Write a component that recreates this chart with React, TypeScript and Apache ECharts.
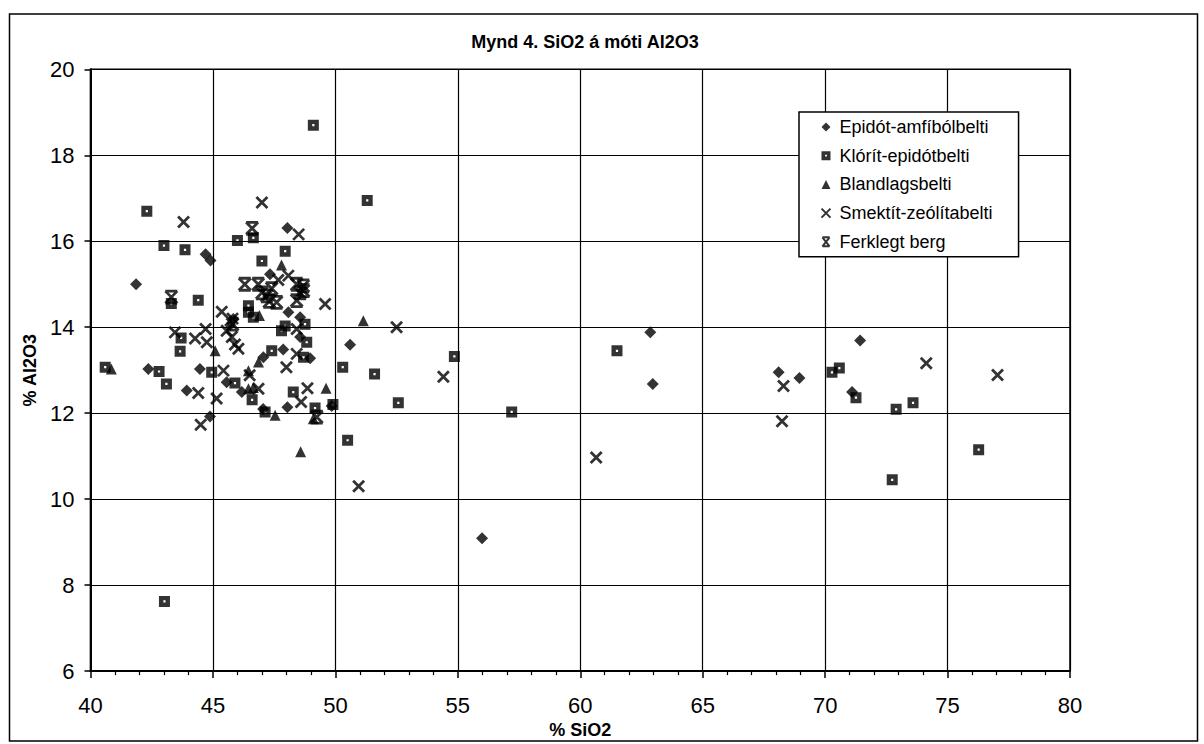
import React, { useEffect, useRef } from "react";
import * as echarts from "echarts";

const seriesNames = [
  "Epidót-amfíbólbelti",
  "Klórít-epidótbelti",
  "Blandlagsbelti",
  "Smektít-zeólítabelti",
  "Ferklegt berg",
];

const epidot: number[][] = [
  [41.86, 15.0], [42.36, 13.03], [43.93, 12.53], [44.47, 13.03], [44.7, 15.7],
  [44.9, 15.55], [44.88, 11.92], [45.56, 12.72], [45.83, 14.19], [45.7, 14.05],
  [46.18, 12.49], [47.06, 13.3], [47.33, 15.23], [47.87, 13.48], [48.04, 16.31],
  [48.04, 12.14], [48.08, 14.35], [48.56, 14.23], [48.56, 13.77], [48.97, 13.28],
  [49.85, 12.17], [50.6, 13.59], [55.99, 9.09], [62.86, 13.88], [62.96, 12.68],
  [68.1, 12.95], [68.95, 12.82], [71.1, 12.49], [71.43, 13.69], [47.05, 12.1],
];

const klorit: number[][] = [
  [40.6, 13.07], [42.3, 16.7], [42.8, 12.97], [43.0, 15.9], [43.02, 7.62],
  [43.1, 12.68], [43.3, 14.55], [43.66, 13.44], [43.7, 13.75], [43.86, 15.8],
  [44.4, 14.63], [44.95, 12.95], [45.9, 12.7], [46.0, 16.02], [46.45, 14.5],
  [46.45, 14.35], [46.6, 12.31], [46.65, 16.08], [46.65, 14.23], [47.0, 15.54],
  [47.13, 12.03], [47.4, 13.45], [47.8, 13.92], [47.95, 15.77], [47.95, 14.03],
  [48.28, 12.49], [48.7, 13.3], [48.76, 14.07], [48.83, 13.65], [49.1, 18.7],
  [49.17, 12.12], [49.9, 12.2], [50.3, 13.07], [50.5, 11.37], [51.3, 16.95],
  [51.6, 12.91], [52.57, 12.24], [54.86, 13.32], [57.2, 12.03], [61.5, 13.45],
  [70.28, 12.95], [70.58, 13.05], [71.26, 12.36], [72.74, 10.45], [72.9, 12.09],
  [73.59, 12.24], [76.27, 11.15],
];

const blandlag: number[][] = [
  [40.85, 13.03], [45.09, 13.45], [46.45, 12.99], [46.45, 12.57], [46.65, 12.6],
  [46.86, 13.19], [46.9, 14.27], [47.54, 11.95], [47.8, 15.45], [48.58, 11.1],
  [49.1, 11.87], [49.62, 12.58], [51.14, 14.15],
];

const smektit: number[][] = [
  [43.45, 13.88], [43.8, 16.45], [44.27, 13.74], [44.4, 12.47], [44.5, 11.73],
  [44.7, 13.96], [44.75, 13.65], [45.15, 12.34], [45.36, 14.36], [45.43, 12.99],
  [45.56, 13.92], [45.77, 13.77], [45.8, 14.2], [45.9, 13.6], [46.04, 13.5],
  [46.5, 12.88], [46.86, 12.57], [47.0, 16.9], [48.0, 13.07], [48.08, 15.2],
  [48.42, 13.38], [48.42, 13.96], [48.5, 16.16], [48.6, 12.26], [48.86, 12.58],
  [49.58, 14.54], [50.95, 10.3], [52.5, 14.0], [54.41, 12.85], [60.65, 10.97],
  [68.24, 11.81], [68.3, 12.63], [74.13, 13.16], [77.04, 12.89], [47.67, 15.1],
];

const ferklegt: number[][] = [
  [43.3, 14.7], [46.3, 15.0], [46.6, 16.3], [46.85, 15.0], [47.2, 14.73],
  [47.0, 14.8], [47.3, 14.6], [47.6, 14.58], [48.42, 15.0], [48.69, 14.96],
  [48.56, 14.8], [48.42, 14.62], [48.7, 14.85], [45.8, 14.07], [49.24, 11.91],
  [47.4, 14.9],
];

const xTicks = { min: 40, max: 80, interval: 5 };
const yTicks = { min: 6, max: 20, interval: 2 };

const FONT = "'Liberation Sans', Arial, sans-serif";

const SQUARE = "path://M0,0H10V10H0Z M4,4V6H6V4Z";
const CROSS = "path://M0,0L10,10M10,0L0,10";
const STARX = "path://M1,0H9M1,10H9M1,0L9,10M9,0L1,10";

export default function App() {
  const ref = useRef<HTMLDivElement>(null);
  useEffect(() => {
    if (!ref.current) return;
    const chart = echarts.init(ref.current, null, { renderer: "svg" });
    const strokeStyle = { color: "none", borderColor: "#000", borderWidth: 2.8 };
    chart.setOption({
      animation: false,
      backgroundColor: "#fff",
      textStyle: { fontFamily: FONT, color: "#000" },
      title: {
        text: "Mynd 4. SiO2 á móti Al2O3",
        left: 580,
        top: 28,
        textAlign: "center",
        textStyle: { fontFamily: FONT, fontSize: 18, fontWeight: "bold", color: "#000" },
      },
      graphic: [
        {
          type: "rect",
          shape: { x: 9.5, y: 14, width: 1188, height: 727 },
          style: { fill: "none", stroke: "#000", lineWidth: 1.5 },
          silent: true,
          z: -1,
        },
      ],
      legend: {
        orient: "vertical",
        left: 799,
        top: 112,
        padding: [6, 26, 6, 20],
        itemGap: 10.7,
        itemWidth: 9,
        itemHeight: 9,
        borderColor: "#000",
        borderWidth: 1.5,
        backgroundColor: "#fff",
        textStyle: { fontFamily: FONT, fontSize: 18, color: "#000", padding: [0, 0, 0, 4] },
        data: seriesNames,
      },
      grid: {
        left: 90.5,
        right: 134,
        top: 69.3,
        bottom: 70.7,
        show: true,
        borderColor: "#000",
        borderWidth: 1.5,
      },
      xAxis: {
        type: "value",
        min: xTicks.min,
        max: xTicks.max,
        interval: xTicks.interval,
        name: "% SiO2",
        nameLocation: "middle",
        nameGap: 42,
        nameTextStyle: { fontFamily: FONT, fontSize: 18, fontWeight: "bold", color: "#000" },
        axisLine: { onZero: false, lineStyle: { color: "#000", width: 2 } },
        axisTick: { show: true, inside: false, length: 7, lineStyle: { color: "#000", width: 1.5 } },
        minorTick: { show: true, splitNumber: 5, length: 4, lineStyle: { color: "#000", width: 1.2 } },
        axisLabel: { fontFamily: FONT, fontSize: 22, color: "#000", margin: 23 },
        splitLine: { show: true, lineStyle: { color: "#000", width: 1.2 } },
      },
      yAxis: {
        type: "value",
        min: yTicks.min,
        max: yTicks.max,
        interval: yTicks.interval,
        name: "% Al2O3",
        nameLocation: "middle",
        nameGap: 51,
        nameTextStyle: { fontFamily: FONT, fontSize: 18, fontWeight: "bold", color: "#000" },
        axisLine: { onZero: false, lineStyle: { color: "#000", width: 2 } },
        axisTick: { show: true, inside: false, length: 6, lineStyle: { color: "#000", width: 1.5 } },
        axisLabel: { fontFamily: FONT, fontSize: 22, color: "#000", margin: 16 },
        splitLine: { show: true, lineStyle: { color: "#000", width: 1.2 } },
      },
      series: [
        {
          name: seriesNames[0],
          type: "scatter",
          data: epidot,
          symbol: "diamond",
          symbolSize: 12,
          itemStyle: { color: "#000" },
        },
        {
          name: seriesNames[1],
          type: "scatter",
          data: klorit,
          symbol: SQUARE,
          symbolSize: 11,
          itemStyle: { color: "#000" },
        },
        {
          name: seriesNames[2],
          type: "scatter",
          data: blandlag,
          symbol: "triangle",
          symbolSize: 11,
          itemStyle: { color: "#000" },
        },
        {
          name: seriesNames[3],
          type: "scatter",
          data: smektit,
          symbol: CROSS,
          symbolSize: 11,
          itemStyle: strokeStyle,
        },
        {
          name: seriesNames[4],
          type: "scatter",
          data: ferklegt,
          symbol: STARX,
          symbolSize: 12,
          itemStyle: strokeStyle,
        },
      ],
    });
    return () => chart.dispose();
  }, []);
  return (
    <div
      ref={ref}
      style={{ position: "fixed", left: 0, top: 0, width: 1204, height: 744, background: "#fff" }}
    />
  );
}
